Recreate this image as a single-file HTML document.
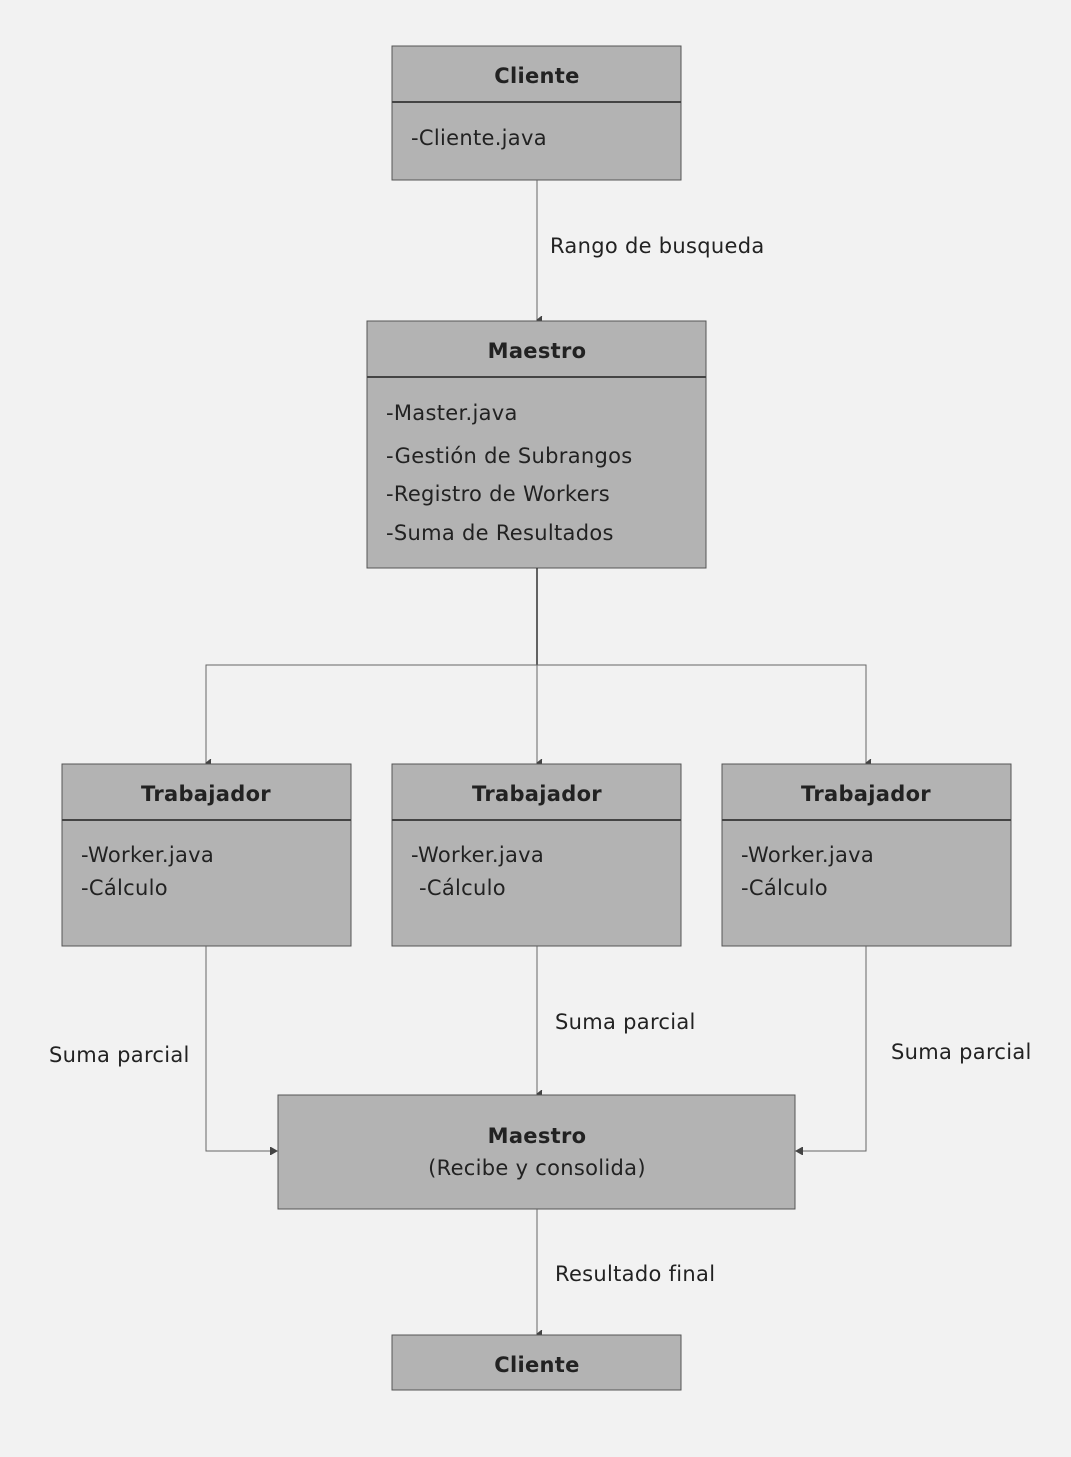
<!DOCTYPE html>
<html><head><meta charset="utf-8"><style>
body{margin:0;background:#f2f2f2;}
svg{display:block}
text{font-family:"DejaVu Sans","Liberation Sans",sans-serif;fill:#222;font-size:21px;letter-spacing:0.3px}
.b{font-weight:bold}
rect{fill:#b3b3b3;stroke:#555;stroke-width:1}
line,path{stroke:#666;stroke-width:1;fill:none}
</style></head><body>
<svg width="1071" height="1457" viewBox="0 0 1071 1457">
<defs><marker id="a" markerWidth="8" markerHeight="8" refX="4" refY="7" orient="auto" markerUnits="userSpaceOnUse"><path d="M0,2 L4,7 L8,2" style="fill:#444;stroke:#444"/></marker>
<marker id="r" markerWidth="8" markerHeight="8" refX="7" refY="4" orient="auto" markerUnits="userSpaceOnUse"><path d="M0,0 L7,4 L0,8" style="fill:#444;stroke:#444"/></marker></defs>

<rect x="392" y="46" width="289" height="134"/>
<line x1="392" y1="102" x2="681" y2="102" style="stroke:#444;stroke-width:2"/>
<text x="537" y="83" text-anchor="middle" class="b">Cliente</text>
<text x="411" y="145">-Cliente.java</text>

<line x1="537" y1="180" x2="537" y2="320" marker-end="url(#a)"/>
<text x="550" y="253">Rango de busqueda</text>

<rect x="367" y="321" width="339" height="247"/>
<line x1="367" y1="377" x2="706" y2="377" style="stroke:#444;stroke-width:2"/>
<text x="537" y="358" text-anchor="middle" class="b">Maestro</text>
<text x="386" y="420">-Master.java</text>
<text x="386" y="463">-Gestión de Subrangos</text>
<text x="386" y="501">-Registro de Workers</text>
<text x="386" y="540">-Suma de Resultados</text>

<line x1="537" y1="568" x2="537" y2="665" style="stroke:#333;stroke-width:1.5"/>
<path d="M206,763 V665 H866 V763"/>
<line x1="206" y1="700" x2="206" y2="763" marker-end="url(#a)"/>
<line x1="537" y1="665" x2="537" y2="763" marker-end="url(#a)"/>
<line x1="866" y1="700" x2="866" y2="763" marker-end="url(#a)"/>

<rect x="62" y="764" width="289" height="182"/>
<line x1="62" y1="820" x2="351" y2="820" style="stroke:#444;stroke-width:2"/>
<text x="206" y="801" text-anchor="middle" class="b">Trabajador</text>
<text x="81" y="862">-Worker.java</text>
<text x="81" y="895">-Cálculo</text>

<rect x="392" y="764" width="289" height="182"/>
<line x1="392" y1="820" x2="681" y2="820" style="stroke:#444;stroke-width:2"/>
<text x="537" y="801" text-anchor="middle" class="b">Trabajador</text>
<text x="411" y="862">-Worker.java</text>
<text x="419" y="895">-Cálculo</text>

<rect x="722" y="764" width="289" height="182"/>
<line x1="722" y1="820" x2="1011" y2="820" style="stroke:#444;stroke-width:2"/>
<text x="866" y="801" text-anchor="middle" class="b">Trabajador</text>
<text x="741" y="862">-Worker.java</text>
<text x="741" y="895">-Cálculo</text>

<path d="M206,946 V1151 H277" marker-end="url(#r)"/>
<line x1="537" y1="946" x2="537" y2="1094" marker-end="url(#a)"/>
<path d="M866,946 V1151 H796" marker-end="url(#r)"/>
<text x="49" y="1062">Suma parcial</text>
<text x="555" y="1029">Suma parcial</text>
<text x="891" y="1059">Suma parcial</text>

<rect x="278" y="1095" width="517" height="114"/>
<text x="537" y="1143" text-anchor="middle" class="b">Maestro</text>
<text x="537" y="1175" text-anchor="middle">(Recibe y consolida)</text>

<line x1="537" y1="1209" x2="537" y2="1334" marker-end="url(#a)"/>
<text x="555" y="1281">Resultado final</text>

<rect x="392" y="1335" width="289" height="55"/>
<text x="537" y="1372" text-anchor="middle" class="b">Cliente</text>
</svg>
</body></html>
